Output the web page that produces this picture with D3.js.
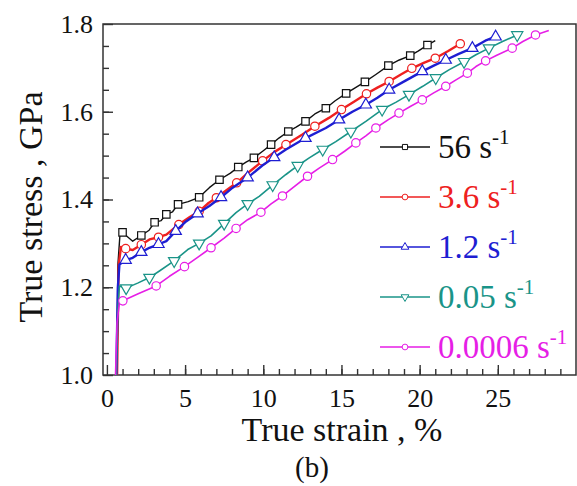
<!DOCTYPE html>
<html>
<head>
<meta charset="utf-8">
<script src="https://cdn.jsdelivr.net/npm/d3@7"></script>
<style>
  body { margin: 0; background: #fff; }
</style>
</head>
<body>
<svg id="chart" width="577" height="486"></svg>
<script>
// strain (%) / stress (GPa)
var s56 = [[0.65,1.0],[0.7,1.25],[0.85,1.328],[1.0,1.325],[1.65,1.305],[2.2,1.318],[2.7,1.33],[3.05,1.348],[3.47,1.352],[3.8,1.366],[4.2,1.372],[4.55,1.389],[5.2,1.395],[5.9,1.405],[6.55,1.427],[7.2,1.445],[7.9,1.46],[8.4,1.474],[8.9,1.485],[9.4,1.495],[9.96,1.51],[10.5,1.525],[11.0,1.54],[11.6,1.555],[12.1,1.565],[12.7,1.578],[13.3,1.595],[14.0,1.608],[14.6,1.625],[15.3,1.642],[15.9,1.655],[16.5,1.668],[17.2,1.685],[18.0,1.705],[18.7,1.718],[19.4,1.728],[19.9,1.738],[20.5,1.752],[21.0,1.762]];
var s36 = [[0.65,1.0],[0.75,1.25],[0.9,1.292],[1.2,1.288],[1.65,1.285],[2.2,1.297],[2.72,1.309],[3.3,1.314],[3.8,1.32],[4.6,1.343],[5.3,1.36],[5.9,1.373],[6.5,1.392],[7.0,1.404],[7.6,1.42],[8.3,1.438],[9.0,1.46],[9.96,1.488],[10.7,1.508],[11.45,1.525],[12.5,1.548],[13.3,1.567],[14.2,1.586],[15.0,1.605],[15.8,1.623],[16.6,1.641],[17.3,1.655],[18.05,1.669],[18.8,1.685],[19.5,1.699],[20.3,1.712],[21.0,1.722],[21.8,1.738],[22.6,1.755]];
var s12 = [[0.6,1.0],[0.7,1.2],[0.8,1.252],[1.2,1.262],[1.65,1.267],[2.2,1.28],[2.72,1.29],[3.3,1.298],[3.8,1.305],[4.4,1.328],[5.06,1.35],[5.8,1.368],[6.55,1.385],[7.3,1.405],[8.04,1.427],[9.0,1.45],[9.96,1.478],[10.7,1.496],[11.45,1.514],[12.7,1.54],[14.0,1.563],[14.85,1.582],[15.7,1.6],[16.56,1.616],[17.3,1.632],[18.05,1.65],[19.1,1.671],[20.17,1.692],[20.9,1.705],[21.67,1.718],[22.5,1.732],[23.37,1.745],[24.2,1.762],[24.86,1.771]];
var s005 = [[0.6,1.0],[0.7,1.15],[0.8,1.203],[1.23,1.198],[2.0,1.21],[2.72,1.222],[3.36,1.237],[4.3,1.26],[5.17,1.286],[5.9,1.3],[6.66,1.317],[7.5,1.345],[8.26,1.37],[9.0,1.39],[9.74,1.407],[10.6,1.433],[11.45,1.457],[12.2,1.477],[12.94,1.495],[13.8,1.514],[14.64,1.532],[15.6,1.555],[16.56,1.578],[17.6,1.605],[18.5,1.622],[19.32,1.639],[20.2,1.658],[21.03,1.677],[21.9,1.696],[22.84,1.714],[23.6,1.73],[24.43,1.745],[25.3,1.76],[26.24,1.775]];
var s0006 = [[0.55,1.0],[0.65,1.12],[0.8,1.165],[1.02,1.169],[2.0,1.185],[3.15,1.203],[4.0,1.225],[4.96,1.247],[5.8,1.268],[6.66,1.29],[7.5,1.312],[8.26,1.334],[9.0,1.354],[9.85,1.371],[10.5,1.39],[11.23,1.408],[12.0,1.43],[12.83,1.453],[13.6,1.472],[14.43,1.491],[15.2,1.51],[15.92,1.529],[16.56,1.545],[17.2,1.563],[18.0,1.582],[18.68,1.597],[19.4,1.612],[20.17,1.627],[20.9,1.643],[21.67,1.658],[22.3,1.672],[23.05,1.688],[23.6,1.703],[24.22,1.716],[24.9,1.728],[25.92,1.745],[26.6,1.76],[27.41,1.775],[28.26,1.785]];

var rateLabels = ["56", "3.6", "1.2", "0.05", "0.0006"];
var xTicks = [0, 5, 10, 15, 20, 25];
var yTicks = [1.0, 1.2, 1.4, 1.6, 1.8];

var series = [
    {label: rateLabels[0], data: s56, color: "#111111", width: 1.4, shape: d3.symbolSquare},
    {label: rateLabels[1], data: s36, color: "#ee2020", width: 2.4, shape: d3.symbolCircle},
    {label: rateLabels[2], data: s12, color: "#1e1ed2", width: 2.4, shape: d3.symbolTriangle},
    {label: rateLabels[3], data: s005, color: "#1a9488", width: 1.6, shape: "down"},
    {label: rateLabels[4], data: s0006, color: "#e61ee6", width: 1.6, shape: d3.symbolCircle}
];

var svg = d3.select("#chart");
var padL = 103, padR = 576, padT = 24, padB = 375;

var x = d3.scaleLinear().domain([-0.25, 30]).range([padL, padR]);
var y = d3.scaleLinear().domain([1.0, 1.8]).range([padB, padT]);

// frame
svg.append("rect")
    .attr("x", padL).attr("y", padT)
    .attr("width", padR - padL).attr("height", padB - padT)
    .attr("fill", "none").attr("stroke", "#333").attr("stroke-width", 1.5);

// minor ticks (inward)
svg.append("g")
    .attr("transform", "translate(0," + padB + ")")
    .call(d3.axisBottom(x).tickValues(d3.range(1, 30)).tickSize(-6).tickFormat(""))
    .call(g => g.select(".domain").remove());
svg.append("g")
    .attr("transform", "translate(" + padL + ",0)")
    .call(d3.axisLeft(y).tickValues(d3.range(1.05, 1.8, 0.05)).tickSize(-6).tickFormat(""))
    .call(g => g.select(".domain").remove());

// major ticks + labels
var xAxis = svg.append("g")
    .attr("transform", "translate(0," + padB + ")")
    .call(d3.axisBottom(x).tickValues(xTicks).tickSize(-10).tickPadding(14).tickFormat(d3.format("d")));
var yAxis = svg.append("g")
    .attr("transform", "translate(" + padL + ",0)")
    .call(d3.axisLeft(y).tickValues(yTicks).tickSize(-10).tickPadding(10).tickFormat(d3.format(".1f")));

[xAxis, yAxis].forEach(function(g) {
    g.select(".domain").remove();
    g.selectAll("text").attr("font-size", 26).attr("fill", "#111");
});
svg.selectAll(".tick line").attr("stroke", "#333").attr("stroke-width", 1.4);

// curves
var line = d3.line().x(function(d) { return x(d[0]); }).y(function(d) { return y(d[1]); });

function markerPath(shape, size) {
    if (shape === "down") {
        return d3.symbol().type(d3.symbolTriangle).size(size)();
    }
    return d3.symbol().type(shape).size(size)();
}

series.forEach(function(s) {
    svg.append("path")
        .datum(s.data)
        .attr("fill", "none")
        .attr("stroke", s.color)
        .attr("stroke-width", s.width)
        .attr("stroke-linejoin", "round")
        .attr("d", line);

    var pts = s.data.filter(function(d, i) { return i >= 3 && (i - 3) % 2 === 0; });
    svg.selectAll()
        .data(pts).enter()
        .append("path")
        .attr("d", markerPath(s.shape, 55))
        .attr("transform", function(d) {
            return "translate(" + x(d[0]) + "," + y(d[1]) + ")" + (s.shape === "down" ? " rotate(180)" : "");
        })
        .attr("fill", "#fff")
        .attr("stroke", s.color)
        .attr("stroke-width", 1.2);
});

// legend
var legend = svg.append("g");
series.forEach(function(s, i) {
    var ly = 147 + i * 50;
    legend.append("line")
        .attr("x1", 380).attr("x2", 430).attr("y1", ly).attr("y2", ly)
        .attr("stroke", s.color).attr("stroke-width", 1.6);
    legend.append("path")
        .attr("d", markerPath(s.shape, 26))
        .attr("transform", "translate(405," + ly + ")" + (s.shape === "down" ? " rotate(180)" : ""))
        .attr("fill", "#fff").attr("stroke", s.color).attr("stroke-width", 1);
    var t = legend.append("text")
        .attr("x", 438).attr("y", ly + 11)
        .attr("font-size", 33).attr("fill", s.color);
    t.append("tspan").text(s.label + " s");
    t.append("tspan").attr("font-size", 21).attr("dy", -14).text("-1");
});

// axis titles
svg.append("text")
    .attr("x", 342).attr("y", 441)
    .attr("text-anchor", "middle").attr("font-size", 34).attr("fill", "#111")
    .text("True strain , %");
svg.append("text")
    .attr("transform", "translate(42,207) rotate(-90)")
    .attr("text-anchor", "middle").attr("font-size", 34).attr("fill", "#111")
    .text("True stress , GPa");
svg.append("text")
    .attr("x", 312).attr("y", 477)
    .attr("text-anchor", "middle").attr("font-size", 29).attr("fill", "#111")
    .text("(b)");

// serif everywhere (the axis sets sans-serif on its groups)
svg.selectAll("text").style("font-family", "'Liberation Serif', 'Times New Roman', serif");
</script>
</body>
</html>
